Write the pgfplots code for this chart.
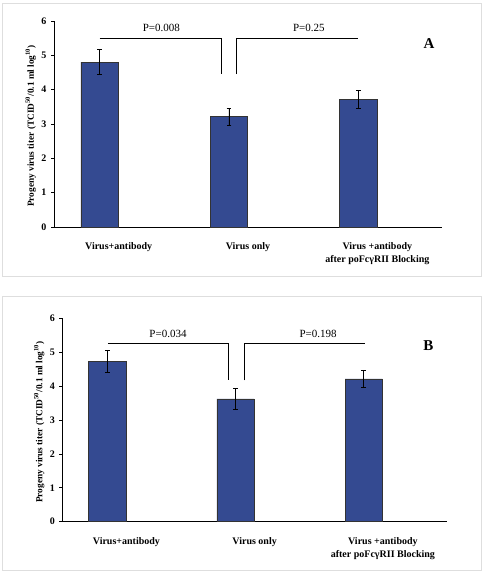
\documentclass[border=0pt]{standalone}
\usepackage{pgfplots}
\pgfplotsset{compat=1.18}
\usepackage{fontspec}
\setmainfont{Liberation Serif}
\definecolor{barblue}{RGB}{52,74,145}
\pgfplotsset{
  panel/.style={
    scale only axis,
    axis lines*=left,
    xmin=-0.5, xmax=2.5,
    ymin=0, ymax=6,
    ytick={0,1,2,3,4,5,6},
    xtick={0,1,2},
    xticklabels={Virus+antibody, Virus only, {Virus +antibody\\after poFcγRII Blocking}},
    major x tick style={draw=none},
    extra x ticks={0.5,1.5,2.5},
    extra x tick labels={},
    extra x tick style={major tick length=3pt, tick style={draw=black}},
    tick align=outside,
    major tick length=3pt,
    /pgf/number format/assume math mode=true,
    ticklabel style={font=\fontsize{10}{13.3}\selectfont\bfseries},
    xticklabel style={align=center, yshift=-9pt},
    y tick label style={xshift=-1pt},
    axis line style={line width=0.7pt},
    every tick/.style={line width=0.7pt, black},
    ylabel={Progeny virus titer (TCID\textsuperscript{50}/0.1 ml log\textsuperscript{10})},
    ylabel style={at={(axis description cs:-0.06,0.49)}, anchor=center, rotate=0, font=\fontsize{9.3}{10}\selectfont\bfseries},
    clip=false,
  },
  bars/.style={
    ybar, bar width=0.29, bar shift=0pt,
    fill=barblue, draw=black!80, line width=0.6pt,
    error bars/.cd, y dir=both, y explicit,
    error bar style={line width=0.7pt, black},
    error mark options={rotate=90, mark size=2.3pt, line width=0.7pt, black},
  },
  bracket/.style={black, line width=0.7pt, sharp plot, no markers, forget plot},
}
\begin{document}
\begin{tikzpicture}[x=1pt,y=1pt]
\useasboundingbox (0,0) rectangle (484,573);
\draw[black!13] (2.5,570) rectangle (481,297);
\draw[black!13] (2.5,276.3) rectangle (481,3);
% Panel A
\begin{axis}[panel, at={(54pt,346pt)}, anchor=south west, width=388pt, height=206pt]
\addplot[bars] coordinates {(-0.147,4.80) +- (0,0.36) (0.853,3.21) +- (0,0.24) (1.853,3.72) +- (0,0.26)};
\addplot[bracket] coordinates {(-0.147,5.49) (0.796,5.49) (0.796,4.45)};
\addplot[bracket] coordinates {(0.912,4.45) (0.912,5.49) (1.850,5.49)};
\node[font=\fontsize{11}{12}\selectfont] at (axis cs:0.33,5.79) {P=0.008};
\node[font=\fontsize{11}{12}\selectfont] at (axis cs:1.47,5.79) {P=0.25};
\node[font=\fontsize{15}{16}\selectfont\bfseries] at (axis cs:2.40,5.35) {A};
\end{axis}
% Panel B
\begin{axis}[panel, at={(62.3pt,51.3pt)}, anchor=south west, width=384.7pt, height=203.4pt]
\addplot[bars] coordinates {(-0.149,4.73) +- (0,0.31) (0.851,3.62) +- (0,0.31) (1.851,4.21) +- (0,0.24)};
\addplot[bracket] coordinates {(-0.144,5.26) (0.793,5.26) (0.793,4.17)};
\addplot[bracket] coordinates {(0.920,4.17) (0.920,5.26) (1.863,5.26)};
\node[font=\fontsize{11}{12}\selectfont] at (axis cs:0.324,5.54) {P=0.034};
\node[font=\fontsize{11}{12}\selectfont] at (axis cs:1.495,5.54) {P=0.198};
\node[font=\fontsize{15}{16}\selectfont\bfseries] at (axis cs:2.354,5.18) {B};
\end{axis}
\end{tikzpicture}
\end{document}
